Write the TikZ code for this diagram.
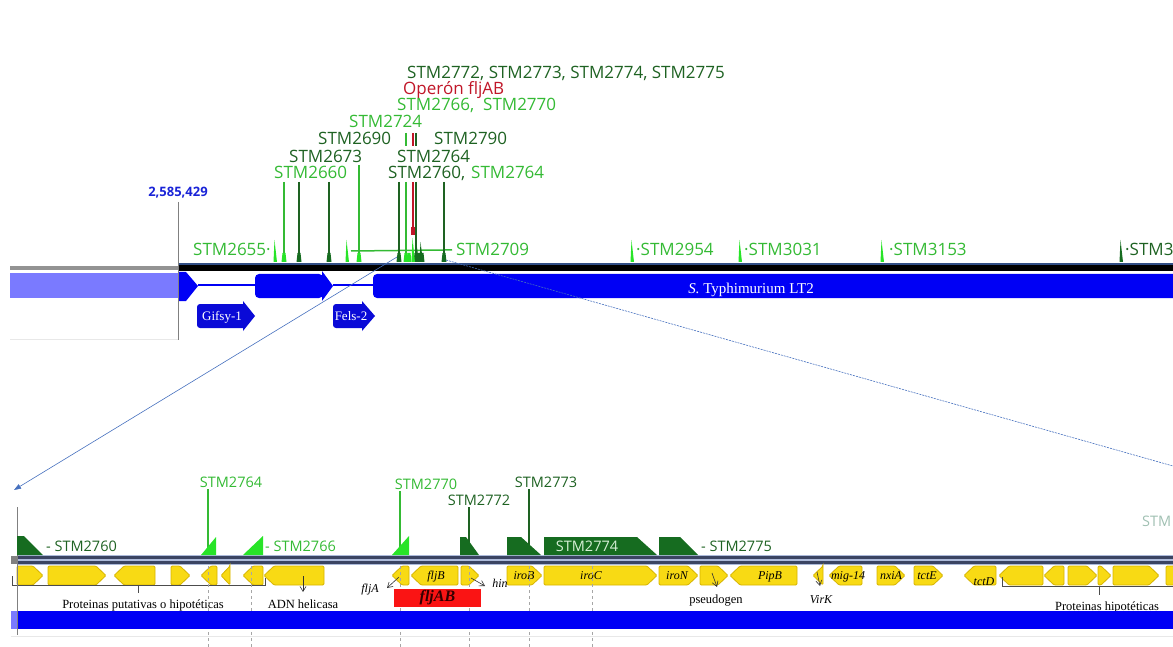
\documentclass[tikz,border=0pt]{standalone}
\usepackage{fontspec}
\setmainfont{Liberation Serif}
\newfontfamily\stmfont{Open Sans}
\usetikzlibrary{arrows.meta}
\definecolor{lgreen}{RGB}{52,186,52}
\definecolor{lmark}{RGB}{40,228,40}
\definecolor{dgreen}{RGB}{30,98,34}
\definecolor{dmark}{RGB}{22,108,32}
\definecolor{opred}{RGB}{192,22,40}
\definecolor{fljred}{RGB}{250,20,20}
\definecolor{band}{RGB}{0,0,245}
\definecolor{boxblue}{RGB}{10,10,215}
\definecolor{pale}{RGB}{122,122,255}
\definecolor{posblue}{RGB}{25,35,215}
\definecolor{genefill}{RGB}{248,218,20}
\definecolor{genedraw}{RGB}{214,180,0}
\definecolor{trackfill}{RGB}{172,186,218}
\definecolor{trackdark}{RGB}{58,68,98}
\definecolor{zoomblue}{RGB}{70,112,190}
\definecolor{stmpale}{RGB}{215,240,215}
\definecolor{ghost}{RGB}{160,192,178}
\tikzset{
  stm/.style={font=\stmfont\fontsize{17}{17}\selectfont, inner sep=0pt, anchor=base west},
  stms/.style={font=\stmfont\fontsize{14.5}{14.5}\selectfont, inner sep=0pt, anchor=base},
  gene/.style={fill=genefill, draw=genedraw, line width=0.8pt, rounded corners=1.2pt},
  glab/.style={font=\fontsize{12}{12}\selectfont\itshape, inner sep=0pt, anchor=base},
  note/.style={font=\fontsize{12.5}{12.5}\selectfont, inner sep=0pt, anchor=base},
  barb/.style={-{Straight Barb[length=5pt,width=6pt]}, line width=0.6pt, black!80},
  guide/.style={gray!70, line width=0.6pt, dash pattern=on 3pt off 3pt},
  zoomline/.style={zoomblue, line width=0.6pt},
  faint/.style={gray!18, line width=0.8pt},
  wlab/.style={text=white, inner sep=0pt, anchor=base}
}

\begin{document}
\begin{tikzpicture}[x=1pt, y=-1pt]
\useasboundingbox (0,0) rectangle (1173,647);
\clip (0,0) rectangle (1173,647);

\draw[faint] (10,339) -- (178,339);
\fill[pale] (10,273) rectangle (178,298);
\draw[gray!85, line width=3.5pt] (10,268) -- (178,268);
\fill[black] (178,265.5) rectangle (1173,271.5);
\draw[zoomblue!70!black, line width=1.2pt] (178,264) -- (1173,264);
\fill[band] (178,272) -- (186,272) -- (198,286) -- (186,301) -- (178,301) -- cycle;
\draw[band, line width=1.2pt] (198,285) -- (255,285);
\fill[band, rounded corners=4pt] (255,274) rectangle (323,298);
\fill[band] (322,271) -- (333,286) -- (322,301) -- cycle;
\draw[band, line width=1.2pt] (333,285) -- (373,285);
\fill[band, rounded corners=4pt] (373,274) rectangle (1190,298);
\node[wlab, font=\fontsize{15}{15}\selectfont] (lt2) at (751,294) {\textit{S.} Typhimurium LT2};

\fill[boxblue, rounded corners=3pt] (197,304) rectangle (246,328);
\fill[boxblue] (243,301) -- (255,316) -- (243,331) -- cycle;
\node[wlab, font=\fontsize{13}{13}\selectfont] (gifsy) at (222,320) {Gifsy-1};
\fill[boxblue, rounded corners=3pt] (333,304) rectangle (365,328);
\fill[boxblue] (362,301) -- (375,316) -- (362,331) -- cycle;
\node[wlab, font=\fontsize{13}{13}\selectfont] (fels) at (351,320) {Fels-2};

\node[font=\stmfont\bfseries\fontsize{13}{13}\selectfont, text=posblue, inner sep=0pt, anchor=base] (pos) at (178,197) {2,585,429};
\coordinate (posend) at (178,340);
\draw[gray, line width=1pt] ([yshift=-3pt]pos.south) -- (posend);

\node[stm, text=dgreen] (row1) at (407,79) {STM2772, STM2773, STM2774, STM2775};
\node[stm, text=opred] (op) at (403,95) {Operón fljAB};
\node[stm, text=lgreen] (row3) at (397,111) {STM2766, \ STM2770};
\node[stm, text=lgreen] (s2724) at (349,128) {STM2724};
\node[stm, text=dgreen] (s2690) at (318,145) {STM2690};
\node[stm, text=dgreen] (s2790) at (434,145) {STM2790};
\node[stm, text=dgreen] (s2673) at (289,163) {STM2673};
\node[stm, text=dgreen] (s2764a) at (397,163) {STM2764};
\node[stm, text=lgreen] (s2660) at (274,179) {STM2660};
\node[stm, text=dgreen] (s2760) at (388,179) {STM2760,};
\node[stm, text=lgreen] (s2764b) at (471,179) {STM2764};
\node[stm, text=lgreen] (s2655) at (193,256) {STM2655·};
\node[stm, text=lgreen] (s2709) at (456,256) {STM2709};
\node[stm, text=lgreen] (s2954) at (636,256) {·STM2954};
\node[stm, text=lgreen] (s3031) at (744,256) {·STM3031};
\node[stm, text=lgreen] (s3153) at (889,256) {·STM3153};
\node[stm, text=dgreen] (s3x) at (1125,256) {·STM3};

\coordinate (h2709) at (351,251);
\draw[lgreen, line width=1.5pt] (h2709) -- ([xshift=-4pt]s2709.west);
\foreach \x/\c/\t in {284/lgreen/182, 299/dgreen/182, 329/dgreen/182, 359/lgreen/165, 399/dgreen/182, 406/lgreen/182, 416/dgreen/182, 444/dgreen/182}{
  \coordinate (t\x) at (\x,\t);
  \coordinate (b\x) at (\x,254);
  \draw[\c, line width=1.5pt] (t\x) -- (b\x);
}
\foreach \x/\c in {406/lgreen, 413/opred, 416/dgreen}
  \draw[\c, line width=1.5pt] (\x,133) -- (\x,146);
\draw[opred, line width=1.5pt] (413,182) -- (413,228);
\fill[opred] (411.3,227) rectangle (414.7,235);
\foreach \x/\c in {284/lmark, 299/dmark, 329/dmark, 359/lmark, 399/dmark, 406/lmark, 409/lmark, 416/dmark, 419/dmark, 422/dmark, 444/dmark}
  \fill[\c] ({\x-2.5},262) -- ({\x-1.5},253) -- ({\x+1.5},253) -- ({\x+2.5},262) -- cycle;
\foreach \x/\c/\t in {275/lmark/240, 347/lmark/240, 413/lmark/238, 417/dmark/244, 421/dmark/242, 632/lmark/240, 740/lmark/240, 882/lmark/240, 1121/dmark/240}
  \fill[\c] ({\x-1.5},262) -- ({\x-0.5},\t) -- ({\x+2},262) -- cycle;

\coordinate (za) at (397,257);
\coordinate (zb) at (14,490);
\draw[zoomline, -{Triangle[length=7pt,width=5pt]}] (za) -- (zb);
\coordinate (zc) at (446,260);
\coordinate (zd) at (1180,468);
\draw[zoomline, dash pattern=on 2pt off 1pt] (zc) -- (zd);

\draw[faint] (11,636) -- (1173,636);
\fill[trackfill] (17,555) rectangle (1173,565);
\draw[trackdark, line width=2.4pt] (17,557.5) -- (1173,557.5);
\draw[trackdark, line width=2.4pt] (17,562.5) -- (1173,562.5);
\fill[gray] (11,556) rectangle (17,564);

\foreach \a/\b in {17/43, 48/106, 171/190, 461/479, 507/542, 544/657, 659/698, 700/728, 877/905, 914/943, 1068/1097, 1098/1111, 1113/1159, 1166/1195}{
  \pgfmathsetmacro\t{\b-min(10,\b-\a)}
  \draw[gene] (\a,566) -- (\t,566) -- (\b,575.5) -- (\t,585) -- (\a,585) -- cycle;
}
\foreach \a/\b in {114/155, 201/217, 221/230, 243/263, 264/324, 392/409, 411/458, 730/797, 813/823, 829/862, 964/996, 999/1043, 1044/1064}{
  \pgfmathsetmacro\t{\a+min(10,\b-\a)}
  \draw[gene] (\b,566) -- (\t,566) -- (\a,575.5) -- (\t,585) -- (\b,585) -- cycle;
}
\foreach \x/\g in {436/fljB, 524/iroB, 591/iroC, 677/iroN, 770/PipB, 848/mig-14, 891/nxiA, 927/tctE}
  \node[glab] (\g) at (\x,579) {\g};
\node[glab] (tctD) at (984,585) {tctD};
\node[glab] (fljA) at (370,592) {fljA};
\node[glab] (hin) at (500,587) {hin};
\node[glab] (VirK) at (821,603) {VirK};
\node[note] (pseudo) at (716,603) {pseudogen};
\node[note] (putat) at (143,608) {Proteinas putativas o hipotéticas};
\node[note] (adn) at (303,608) {ADN helicasa};
\node[note] (hipot) at (1107,610) {Proteinas hipotéticas};

\coordinate (pA) at (399,577);
\coordinate (qA) at (387,588);
\draw[barb] (pA) -- (qA);
\coordinate (pH) at (471,578);
\coordinate (qH) at (485,586);
\draw[barb] (pH) -- (qH);
\coordinate (pD) at (303,576);
\coordinate (qD) at (303,592);
\draw[barb] (pD) -- (qD);
\coordinate (pP) at (712,573);
\coordinate (qP) at (717,587);
\draw[barb] (pP) -- (qP);
\coordinate (pV) at (817,572);
\coordinate (qV) at (820,586);
\draw[barb] (pV) -- (qV);

\draw[black!70, line width=0.6pt] (12,576) -- (12,585) -- (265,585) -- (265,578);
\draw[black!70, line width=0.6pt] (138,585) -- (138,593);
\draw[black!70, line width=0.6pt] (1002,577) -- (1002,586) -- (1180,586);
\draw[black!70, line width=0.6pt] (1099,586) -- (1099,595);

\foreach \x/\s in {208/566, 251/566, 400/566, 469/566, 529/566, 592/566}
  \draw[guide] (\x,\s) -- (\x,647);
\node[fill=fljred, minimum width=87pt, minimum height=18pt, inner sep=0pt, font=\bfseries\itshape\fontsize{16}{16}\selectfont, text=black!80!red] (fljAB) at (437.5,598) {fljAB};
\fill[pale] (11,611) rectangle (17,629);
\fill[band] (17,611) rectangle (1173,629);
\draw[gray, line width=1pt] (17,507) -- (17,635);

\node[stms, text=lgreen] (c2764) at (231,487) {STM2764};
\node[stms, text=lgreen] (c2770) at (426,489) {STM2770};
\node[stms, text=dgreen] (c2772) at (479,505) {STM2772};
\node[stms, text=dgreen] (c2773) at (546,487) {STM2773};
\coordinate (m2764) at (208,549);
\coordinate (m2770) at (400,549);
\coordinate (m2772) at (469,549);
\coordinate (m2773) at (529,549);
\draw[lgreen, line width=1.3pt] ([yshift=-2pt]c2764.south -| m2764) -- (m2764);
\draw[lgreen, line width=1.3pt] ([yshift=-2pt]c2770.south -| m2770) -- (m2770);
\draw[dgreen, line width=1.3pt] ([yshift=-2pt]c2772.south -| m2772) -- (m2772);
\draw[dgreen, line width=1.3pt] ([yshift=-2pt]c2773.south -| m2773) -- (m2773);

\fill[dmark] (17,555) -- (17,536) -- (24,536) -- (43,555) -- cycle;
\fill[lmark] (201,555) -- (216,537) -- (216,555) -- cycle;
\fill[lmark] (243,555) -- (263,536) -- (263,555) -- cycle;
\fill[lmark] (392,555) -- (409,536) -- (409,555) -- cycle;
\fill[dmark] (460,555) -- (460,537) -- (466,537) -- (479,555) -- cycle;
\fill[dmark] (507,555) -- (507,537) -- (521,537) -- (541,555) -- cycle;
\fill[dmark] (544,555) -- (544,537) -- (637,537) -- (657,555) -- cycle;
\fill[dmark] (659,555) -- (659,537) -- (680,537) -- (698,555) -- cycle;
\node[stms, anchor=base west, text=dgreen] (c2760) at (46,551) {- STM2760};
\node[stms, anchor=base west, text=lgreen] (c2766) at (265,551) {- STM2766};
\node[stms, anchor=base west, text=dgreen] (c2775) at (701,551) {- STM2775};
\node[stms, text=stmpale] (c2774) at (587,551) {STM2774};
\node[stms, anchor=base west, text=ghost] (cstm) at (1142,526) {STM};
\end{tikzpicture}
\end{document}
